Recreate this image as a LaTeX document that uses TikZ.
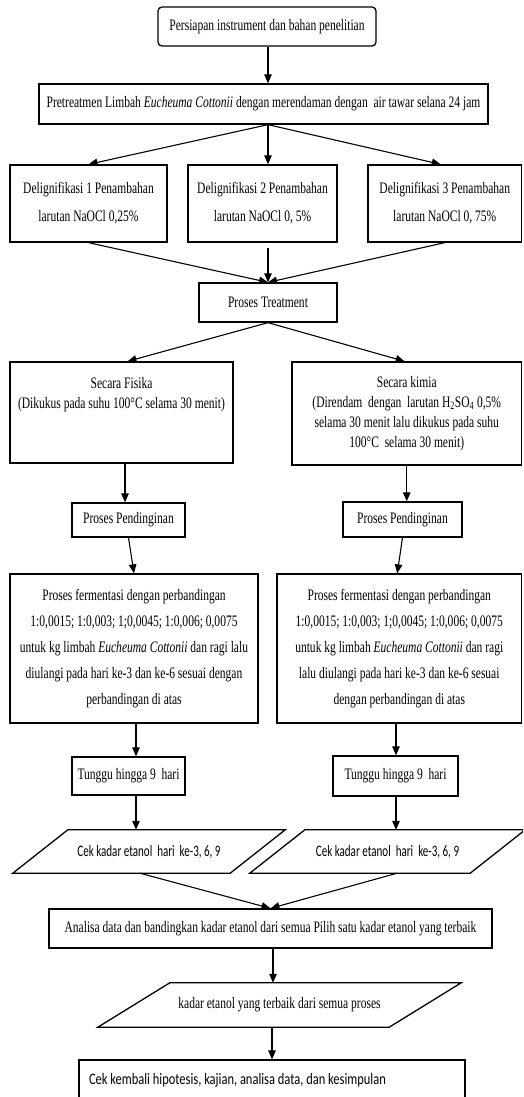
\documentclass[tikz,border=0pt]{standalone}
\usepackage{fontspec}
\setmainfont{Liberation Serif}[FakeStretch=0.72]
\newfontfamily\sansf{Carlito}[FakeStretch=0.69]
\newfontfamily\sansw{Carlito}[FakeStretch=0.78]
\usetikzlibrary{arrows.meta}
\tikzset{
  box/.style={draw, line width=1.3pt, rectangle, inner sep=0pt, align=center,
    font=\fontsize{16}{20}\selectfont},
  ghost/.style={rectangle, inner sep=0pt, align=center, font=\fontsize{16}{20}\selectfont},
  pline/.style={line width=1.3pt, line join=miter},
  conn/.style={line width=1.1pt, -{Triangle[length=9pt,width=7.5pt]}},
}
\begin{document}
\begin{tikzpicture}[x=1pt,y=-1pt]
\useasboundingbox (0,0) rectangle (523,1097);
\clip (0,0) rectangle (523,1097);
\coordinate (spine) at (268,0);
\coordinate (colL) at (136,0);
\coordinate (colR) at (396,0);

\node[box, rounded corners=4pt, minimum width=218pt, minimum height=39pt] (start) at (267,26.5)
  {Persiapan instrument dan bahan penelitian};
\node[box, minimum width=449pt, minimum height=40pt] (pre) at (263.5,104)
  {Pretreatmen Limbah \textit{Eucheuma Cottonii} dengan merendaman dengan\ \ air tawar selana 24 jam};

\node[box, font=\fontsize{16}{28}\selectfont, minimum width=157pt, minimum height=77pt] (d1) at (88.5,203.5)
  {Delignifikasi 1 Penambahan\\larutan NaOCl 0,25\%};
\node[box, font=\fontsize{16}{28}\selectfont, minimum width=149pt, minimum height=77pt] (d2) at (262.5,203.5)
  {Delignifikasi 2 Penambahan\\larutan NaOCl 0, 5\%};
\node[box, font=\fontsize{16}{28}\selectfont, minimum width=153.5pt, minimum height=77pt] (d3) at (444.75,203.5)
  {Delignifikasi 3 Penambahan\\larutan NaOCl 0, 75\%};

\node[box, minimum width=138pt, minimum height=39pt] (treat) at (268,302.5) {Proses Treatment};

\node[box, minimum width=223pt, minimum height=101pt] (fis) at (121.5,412.5)
  {Secara Fisika\\(Dikukus pada suhu 100°C selama 30 menit)\\\mbox{}\\\mbox{}};
\node[box, minimum width=229.5pt, minimum height=103pt] (kim) at (406.75,413.5)
  {Secara kimia\\(Direndam\ \ dengan\ \ larutan H\textsubscript{2}SO\textsubscript{4} 0,5\%\\selama 30 menit lalu dikukus pada suhu\\100°C\ \ selama 30 menit)};

\node[box, minimum width=113pt, minimum height=34pt] (pendL) at (128.5,520) {Proses Pendinginan};
\node[box, minimum width=119pt, minimum height=35pt] (pendR) at (402.5,519.5) {Proses Pendinginan};

\node[box, font=\fontsize{16}{26}\selectfont, minimum width=248pt, minimum height=149pt] (fermL) at (134,648.5)
  {Proses fermentasi dengan perbandingan\\1:0,0015; 1:0,003; 1;0,0045; 1:0,006; 0,0075\\untuk kg limbah \textit{Eucheuma Cottonii} dan ragi lalu\\diulangi pada hari ke-3 dan ke-6 sesuai dengan\\perbandingan di atas};
\node[box, font=\fontsize{16}{26}\selectfont, minimum width=244.5pt, minimum height=149pt] (fermR) at (399.25,648.5)
  {Proses fermentasi dengan perbandingan\\1:0,0015; 1:0,003; 1;0,0045; 1:0,006; 0,0075\\untuk kg limbah \textit{Eucheuma Cottonii} dan ragi\\lalu diulangi pada hari ke-3 dan ke-6 sesuai\\dengan perbandingan di atas};

\node[box, minimum width=113pt, minimum height=38pt] (tungL) at (128.5,776) {Tunggu hingga 9\ \ hari};
\node[box, minimum width=125pt, minimum height=40pt] (tungR) at (395.5,776) {Tunggu hingga 9\ \ hari};

\node[ghost, font=\sansf\fontsize{16}{20}\selectfont, minimum width=217pt, minimum height=43pt] (cekL) at (149,851.5)
  {Cek kadar etanol\ \ hari\ \ ke-3, 6, 9};
\node[ghost, font=\sansf\fontsize{16}{20}\selectfont, minimum width=220pt, minimum height=43pt] (cekR) at (387.5,851.5)
  {Cek kadar etanol\ \ hari\ \ ke-3, 6, 9};
\draw[pline] ([xshift=27.5pt]cekL.north west) -- ([xshift=27.5pt]cekL.north east)
  -- ([xshift=-27.5pt]cekL.south east) -- ([xshift=-27.5pt]cekL.south west) -- cycle;
\draw[pline] ([xshift=27.5pt]cekR.north west) -- ([xshift=27.5pt]cekR.north east)
  -- ([xshift=-27.5pt]cekR.south east) -- ([xshift=-27.5pt]cekR.south west) -- cycle;

\node[box, minimum width=443pt, minimum height=39pt] (anal) at (270.5,928.5)
  {Analisa data dan bandingkan kadar etanol dari semua Pilih satu kadar etanol yang terbaik};

\node[ghost, minimum width=291pt, minimum height=44pt] (best) at (279.5,1005)
  {kadar etanol yang terbaik dari semua proses};
\draw[pline] ([xshift=36pt]best.north west) -- ([xshift=36pt]best.north east)
  -- ([xshift=-36pt]best.south east) -- ([xshift=-36pt]best.south west) -- cycle;

\node[box, font=\sansw\fontsize{16}{20}\selectfont, minimum width=386pt, minimum height=40pt] (final) at (272,1080)
  {\makebox[366pt][l]{Cek kembali hipotesis, kajian, analisa data, dan kesimpulan}};

% connectors
\draw[conn] (start.south -| spine) -- (pre.north -| spine);
\draw[conn] (pre.south -| spine) -- (d1.north);
\draw[conn] (pre.south -| spine) -- (d2.north -| spine);
\draw[conn] (pre.south -| spine) -- ([xshift=-4pt]d3.north);
\draw[conn] (d1.south) -- (treat.north);
\draw[conn] ([yshift=-5pt]d2.south -| spine) -- (treat.north);
\draw[conn] (d3.south) -- (treat.north);
\draw[conn] (treat.south) -- ([xshift=6pt]fis.north);
\draw[conn] (treat.south) -- ([xshift=-2pt]kim.north);
\draw[conn] ([xshift=-3.5pt]pendL.north |- fis.south) -- ([xshift=-3.5pt]pendL.north);
\draw[conn] (kim.south) -- (kim.south |- pendR.north);
\draw[conn] (pendL.south) -- (fermL.north);
\draw[conn] (pendR.south) -- ([xshift=-2pt]fermR.north);
\draw[conn] (fermL.south -| colL) -- (tungL.north -| colL);
\draw[conn] (fermR.south -| colR) -- (tungR.north -| colR);
\draw[conn] (tungL.south -| colL) -- (cekL.north -| colL);
\draw[conn] (tungR.south -| colR) -- (cekR.north -| colR);
\draw[conn] ([xshift=-9pt]cekL.south) -- (anal.north);
\draw[conn] ([xshift=9.5pt]cekR.south) -- (anal.north);
\draw[conn] ([xshift=2.5pt]anal.south) -- ([xshift=2.5pt]anal.south |- best.north);
\draw[conn] (final.north |- best.south) -- (final.north);
\end{tikzpicture}
\end{document}
